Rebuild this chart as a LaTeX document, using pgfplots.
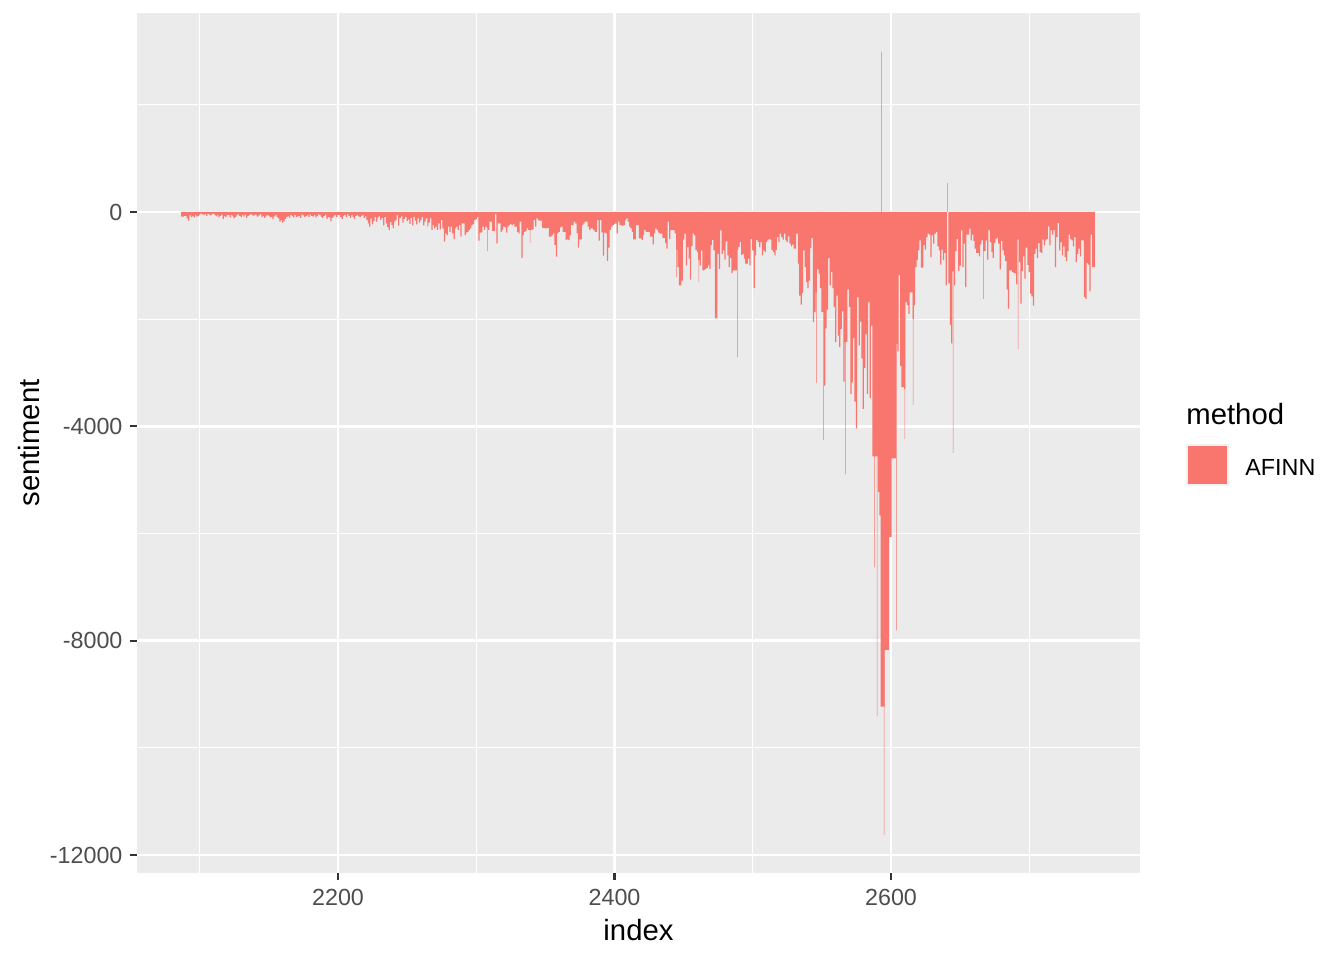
\documentclass[border=0pt]{standalone}
\usepackage{pgfplots}
\pgfplotsset{compat=1.18}
\usepackage{fontspec}
\setmainfont{Liberation Sans}
\definecolor{panel}{HTML}{EBEBEB}
\definecolor{barc}{HTML}{F8766D}
\definecolor{tickc}{HTML}{333333}
\definecolor{labc}{HTML}{4D4D4D}
\definecolor{keybg}{HTML}{F2F2F2}
\begin{document}
\begin{tikzpicture}
\begin{axis}[
 at={(0,0)}, anchor=south west,
 scale only axis, width=501.5bp, height=430bp,
 xmin=2054.6, xmax=2780.1, ymin=-12336, ymax=3714,
 axis background/.style={fill=panel},
 axis line style={draw=none},
 xtick={2200,2400,2600}, xticklabels={2200,2400,2600},
 ytick={-12000,-8000,-4000,0}, yticklabels={-12000,-8000,-4000,0},
 minor xtick={2100,2300,2500,2700},
 minor ytick={-10000,-6000,-2000,2000},
 xtick pos=bottom, ytick pos=left,
 tick align=outside,
 major tick length=3.67bp, minor tick length=0pt,
 major tick style={draw=tickc, line width=1.1bp},
 grid=both,
 major grid style={draw=white, line width=1.3bp},
 minor grid style={draw=white, line width=0.65bp},
 ticklabel style={font=\fontsize{11.7}{14}\selectfont, text=labc},
 xticklabel style={anchor=north, inner sep=0pt, yshift=-4bp},
 yticklabel style={anchor=east, inner sep=0pt, xshift=-3.4bp},
 xlabel={index},
 xlabel style={at={(axis description cs:0.5,0)}, anchor=base, yshift=-33.5bp, inner sep=0pt, font=\fontsize{14.7}{17}\selectfont},
 ylabel={sentiment},
 ylabel style={at={(axis description cs:-0.0977,0.5)}, anchor=base, inner sep=0pt, font=\fontsize{14.7}{17}\selectfont},
 clip=true,
]
\addplot[ybar, bar width=0.9, bar shift=0pt, draw=none, fill=barc] coordinates {
(2087,-87)(2088,-87)(2089,-70)(2090,-70)(2091,-120)(2092,-160)(2093,-60)(2094,-95)(2095,-75)(2096,-100)(2097,-60)(2098,-85)(2099,-70)(2100,-50)
(2101,-30)(2102,-45)(2103,-60)(2104,-40)(2105,-70)(2106,-35)(2107,-50)(2108,-65)(2109,-40)(2110,-30)
(2111,-55)(2112,-80)(2113,-60)(2114,-100)(2115,-70)(2116,-50)(2117,-130)(2118,-75)(2119,-90)(2120,-60)
(2121,-55)(2122,-100)(2123,-60)(2124,-80)(2125,-120)(2126,-90)(2127,-60)(2128,-45)(2129,-70)(2130,-95)
(2131,-55)(2132,-85)(2133,-50)(2134,-110)(2135,-70)(2136,-60)(2137,-40)(2138,-55)(2139,-75)(2140,-50)
(2141,-60)(2142,-85)(2143,-65)(2144,-45)(2145,-95)(2146,-70)(2147,-110)(2148,-80)(2149,-60)(2150,-70)
(2151,-100)(2152,-90)(2153,-130)(2154,-80)(2155,-60)(2156,-90)(2157,-120)(2158,-180)(2159,-150)(2160,-200)
(2161,-170)(2162,-130)(2163,-90)(2164,-80)(2165,-110)(2166,-60)(2167,-75)(2168,-100)(2169,-55)(2170,-90)
(2171,-80)(2172,-70)(2173,-110)(2174,-50)(2175,-65)(2176,-90)(2177,-75)(2178,-60)(2179,-95)(2180,-50)
(2181,-70)(2182,-85)(2183,-60)(2184,-100)(2185,-75)(2186,-45)(2187,-60)(2188,-90)(2189,-110)(2190,-70)
(2191,-50)(2192,-130)(2193,-90)(2194,-100)(2195,-170)(2196,-110)(2197,-80)(2198,-60)(2199,-90)(2200,-55)
(2201,-60)(2202,-90)(2203,-130)(2204,-75)(2205,-55)(2206,-90)(2207,-40)(2208,-70)(2209,-110)(2210,-60)
(2211,-95)(2212,-130)(2213,-70)(2214,-60)(2215,-80)(2216,-90)(2217,-70)(2218,-60)(2219,-110)(2220,-80)
(2221,-150)(2222,-210)(2223,-275)(2224,-120)(2225,-230)(2226,-170)(2227,-90)(2228,-180)(2229,-100)(2230,-80)
(2231,-145)(2232,-110)(2233,-250)(2234,-90)(2235,-210)(2236,-280)(2237,-335)(2238,-190)(2239,-240)(2240,-300)
(2241,-180)(2242,-150)(2243,-60)(2244,-255)(2245,-110)(2246,-80)(2247,-200)(2248,-130)(2249,-90)(2250,-170)
(2251,-140)(2252,-220)(2253,-110)(2254,-250)(2255,-90)(2256,-160)(2257,-230)(2258,-120)(2259,-200)(2260,-150)
(2261,-95)(2262,-250)(2263,-180)(2264,-120)(2265,-270)(2266,-200)(2267,-120)(2268,-335)(2269,-245)(2270,-305)
(2271,-275)(2272,-335)(2273,-210)(2274,-325)(2275,-150)(2276,-305)(2277,-555)(2278,-400)(2279,-430)(2280,-275)
(2281,-370)(2282,-275)(2283,-400)(2284,-505)(2285,-305)(2286,-275)(2287,-335)(2288,-245)(2289,-460)(2290,-210)
(2291,-210)(2292,-430)(2293,-385)(2294,-370)(2295,-335)(2296,-305)(2297,-245)(2298,-225)(2299,-150)(2300,-135)
(2301,-90)(2302,-535)(2303,-385)(2304,-380)(2305,-275)(2306,-335)(2307,-275)(2308,-300)(2309,-335)(2310,-180)
(2311,-180)(2312,-350)(2313,-350)(2314,-40)(2315,-585)(2316,-210)(2317,-210)(2318,-370)(2319,-335)(2320,-275)
(2321,-285)(2322,-386)(2323,-275)(2324,-245)(2325,-225)(2326,-245)(2327,-225)(2328,-275)(2329,-275)(2330,-370)
(2331,-400)(2332,-180)(2333,-855)(2334,-430)(2335,-370)(2336,-350)(2337,-305)(2338,-335)(2339,-335)(2340,-335)
(2341,-325)(2342,-150)(2343,-275)(2344,-120)(2345,-150)(2346,-160)(2347,-160)(2348,-295)(2349,-295)(2350,-305)
(2351,-305)(2352,-295)(2353,-460)(2354,-460)(2355,-430)(2356,-400)(2357,-615)(2358,-835)(2359,-400)(2360,-370)
(2361,-285)(2362,-275)(2363,-370)(2364,-370)(2365,-525)(2366,-510)(2367,-525)(2368,-430)(2369,-245)(2370,-245)
(2371,-180)(2372,-210)(2373,-400)(2374,-665)(2375,-510)(2376,-510)(2377,-245)(2378,-210)(2379,-180)(2380,-180)
(2381,-275)(2382,-335)(2383,-305)(2384,-305)(2385,-335)(2386,-370)(2387,-370)(2388,-150)(2389,-535)(2390,-150)
(2391,-380)(2392,-815)(2393,-385)(2394,-400)(2395,-910)(2396,-665)(2397,-335)(2398,-275)(2399,-245)(2400,-225)
(2401,-210)(2402,-400)(2403,-180)(2404,-245)(2405,-245)(2406,-260)(2407,-245)(2408,-150)(2409,-120)(2410,-180)
(2411,-275)(2412,-305)(2413,-370)(2414,-510)(2415,-510)(2416,-245)(2417,-245)(2418,-490)(2419,-490)(2420,-525)
(2421,-430)(2422,-335)(2423,-370)(2424,-370)(2425,-370)(2426,-460)(2427,-460)(2428,-605)(2429,-400)(2430,-305)
(2431,-335)(2432,-385)(2433,-405)(2434,-405)(2435,-485)(2436,-485)(2437,-580)(2438,-685)(2439,-180)(2440,-500)
(2441,-340)(2442,-340)(2443,-340)(2444,-400)(2445,-700)(2446,-1030)(2447,-1370)(2448,-1370)(2449,-1280)(2450,-515)
(2451,-405)(2452,-995)(2453,-655)(2454,-870)(2455,-1260)(2456,-635)(2457,-405)(2458,-435)(2459,-705)(2460,-750)
(2461,-900)(2462,-995)(2463,-720)(2464,-1090)(2465,-1080)(2466,-1060)(2467,-1045)(2468,-995)(2469,-1060)(2470,-620)
(2471,-520)(2472,-715)(2473,-1980)(2474,-1980)(2475,-780)(2476,-1060)(2477,-345)(2478,-780)(2479,-715)(2480,-890)
(2481,-550)(2482,-810)(2483,-1030)(2484,-855)(2485,-1140)(2486,-1090)(2487,-1090)(2488,-1090)(2489,-700)(2490,-655)
(2491,-560)(2492,-800)(2493,-780)(2494,-870)(2495,-965)(2496,-965)(2497,-870)(2498,-995)(2499,-500)(2500,-715)
(2501,-1420)(2502,-810)(2503,-520)(2504,-560)(2505,-655)(2506,-560)(2507,-810)(2508,-715)(2509,-750)(2510,-560)
(2511,-530)(2512,-500)(2513,-515)(2514,-705)(2515,-750)(2516,-810)(2517,-705)(2518,-470)(2519,-560)(2520,-405)
(2521,-470)(2522,-515)(2523,-405)(2524,-530)(2525,-560)(2526,-455)(2527,-590)(2528,-640)(2529,-610)(2530,-685)
(2531,-685)(2532,-405)(2533,-965)(2534,-1560)(2535,-1730)(2536,-1510)(2537,-715)(2538,-1030)(2539,-1310)(2540,-1420)
(2541,-1280)(2542,-675)(2543,-485)(2544,-2055)(2545,-1870)(2546,-1500)(2547,-1070)(2548,-1150)(2549,-1420)(2550,-1870)
(2551,-1870)(2552,-3240)(2553,-2170)(2554,-1820)(2555,-860)(2556,-1370)(2557,-1120)(2558,-1420)(2559,-1775)(2560,-2430)
(2561,-1560)(2562,-2305)(2563,-2520)(2564,-2180)(2565,-1855)(2566,-3165)(2567,-2430)(2568,-2430)(2569,-1445)(2570,-1775)
(2571,-3395)(2572,-3180)(2573,-2355)(2574,-3540)(2575,-4040)(2576,-1590)(2577,-2490)(2578,-2045)(2579,-2730)(2580,-3675)
(2581,-2915)(2582,-2280)(2583,-3395)(2584,-1680)(2585,-3475)(2586,-2120)(2587,-4560)(2588,-4560)(2589,-4560)(2590,-4560)
(2591,-5230)(2592,-5660)(2593,-9230)(2594,-9230)(2595,-9230)(2596,-8170)(2597,-8170)(2598,-8170)(2599,-6070)(2600,-6070)
(2601,-4600)(2602,-4600)(2603,-4600)(2604,-2460)(2605,-2600)(2606,-1180)(2607,-2870)(2608,-3270)(2609,-3270)(2610,-3300)
(2611,-1680)(2612,-1740)(2613,-1900)(2614,-1500)(2615,-1500)(2616,-2000)(2617,-1740)(2618,-1030)(2619,-900)(2620,-715)
(2621,-530)(2622,-1040)(2623,-1040)(2624,-620)(2625,-700)(2626,-470)(2627,-405)(2628,-420)(2629,-840)(2630,-435)
(2631,-590)(2632,-405)(2633,-375)(2634,-640)(2635,-715)(2636,-980)(2637,-700)(2638,-900)(2639,-765)(2640,-1370)
(2642,-1330)(2643,-2105)(2644,-2450)(2645,-1110)(2646,-1370)(2647,-730)(2648,-500)(2649,-1100)(2650,-1000)
(2651,-340)(2652,-1030)(2653,-590)(2654,-1400)(2655,-420)(2656,-420)(2657,-310)(2658,-530)(2659,-420)(2660,-540)
(2661,-685)(2662,-765)(2663,-765)(2664,-830)(2665,-605)(2666,-530)(2667,-730)(2668,-730)(2669,-530)(2670,-890)
(2671,-340)(2672,-560)(2673,-750)(2674,-855)(2675,-580)(2676,-500)(2677,-480)(2678,-590)(2679,-1070)(2680,-540)
(2681,-715)(2682,-810)(2683,-915)(2684,-1445)(2685,-1805)(2686,-1090)(2687,-1090)(2688,-1120)(2689,-1140)(2690,-1140)
(2691,-1350)(2692,-510)(2693,-935)(2694,-1710)(2695,-1100)(2696,-830)(2697,-1245)(2698,-665)(2699,-985)(2700,-1120)
(2701,-1525)(2702,-1575)(2703,-1745)(2704,-780)(2705,-685)(2706,-860)(2707,-580)(2708,-750)(2709,-765)(2710,-515)
(2711,-625)(2712,-530)(2713,-500)(2714,-270)(2715,-625)(2716,-340)(2717,-420)(2718,-340)(2719,-1030)(2720,-470)
(2721,-205)(2722,-715)(2723,-560)(2724,-810)(2725,-640)(2726,-840)(2727,-915)(2728,-730)(2729,-420)(2730,-500)
(2731,-530)(2732,-640)(2733,-470)(2734,-935)(2735,-780)(2736,-685)(2737,-830)(2738,-530)(2739,-530)(2740,-1590)
(2741,-1620)(2742,-955)(2743,-980)(2744,-1475)(2745,-420)(2746,-1030)(2747,-1030)
};
\addplot[ybar, bar width=0.35, bar shift=0pt, draw=none, fill=barc] coordinates {
(2308,-730)(2339,-575)(2445,-1215)(2461,-1310)(2489,-2710)(2546,-3190)(2551,-4255)(2567,-4890)
(2588,-6630)(2590,-9410)(2593,2990)(2595,-11630)(2604,-7810)(2610,-4240)(2616,-3600)
(2641,540)(2645,-4500)(2667,-1620)(2692,-2555)
};
\end{axis}
\fill[keybg] (524.5bp,193.5bp) rectangle (546bp,214.5bp);
\fill[barc] (525.5bp,194.5bp) rectangle (545bp,213.5bp);
\node[anchor=base west, inner sep=0pt, font=\fontsize{14.7}{17}\selectfont] at (524.5bp,224bp) {method};
\node[anchor=base west, inner sep=0pt, font=\fontsize{11.7}{14}\selectfont] at (554bp,198.5bp) {AFINN};
\pgfresetboundingbox
\path[use as bounding box] (-68.5bp,-43.5bp) rectangle (603.5bp,436.5bp);
\end{tikzpicture}
\end{document}
